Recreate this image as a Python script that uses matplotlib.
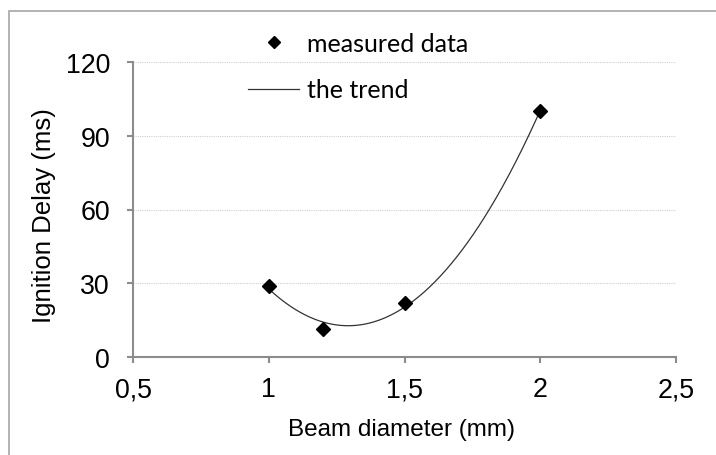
import numpy as np
import matplotlib
matplotlib.use("Agg")
import matplotlib.pyplot as plt
from matplotlib.patches import Rectangle
from matplotlib.lines import Line2D

plt.rcParams["font.family"] = ["Liberation Sans", "DejaVu Sans"]

# Data
beam_diameter = [1.0, 1.2, 1.5, 2.0]
ignition_delay = [29.0, 11.5, 22.0, 100.0]
x_ticks = [0.5, 1.0, 1.5, 2.0, 2.5]
x_tick_labels = ["0,5", "1", "1,5", "2", "2,5"]
y_ticks = [0, 30, 60, 90, 120]
y_tick_labels = ["0", "30", "60", "90", "120"]

W, H = 716, 456
fig = plt.figure(figsize=(W / 100, H / 100), dpi=100)
fig.patch.set_facecolor("white")

# outer chart border (cropped at right/bottom)
fig.add_artist(Rectangle((9 / W, -0.5), 2.0, 0.5 + (1 - 12 / H),
                         transform=fig.transFigure, fill=False,
                         edgecolor="#a6a6a6", linewidth=1.2))

ax_left, ax_right = 133 / W, 676 / W
ax_bottom, ax_top = 1 - 358 / H, 1 - 63 / H
ax = fig.add_axes([ax_left, ax_bottom, ax_right - ax_left, ax_top - ax_bottom])

ax.set_xlim(0.5, 2.5)
ax.set_ylim(0, 120)

# polynomial (order 2) trend line, as in the source spreadsheet
coef = np.polyfit(beam_diameter, ignition_delay, 2)
xs = np.linspace(min(beam_diameter), max(beam_diameter), 200)
ax.plot(xs, np.polyval(coef, xs), color="#333333", linewidth=0.9, zorder=3)

ax.plot(beam_diameter, ignition_delay, linestyle="none", marker="D",
        markersize=7.5, color="black", zorder=4)

# grid
for yv in y_ticks[1:]:
    ax.axhline(yv, color="#cfcfcf", linewidth=0.8, linestyle=(0, (1, 1)), zorder=1)

for s in ["top", "right"]:
    ax.spines[s].set_visible(False)
for s in ["left", "bottom"]:
    ax.spines[s].set_color("#8c8c8c")
    ax.spines[s].set_linewidth(1.5)

ax.set_xticks(x_ticks)
ax.set_xticklabels(x_tick_labels)
ax.set_yticks(y_ticks)
ax.set_yticklabels(y_tick_labels)
ax.tick_params(axis="both", direction="out", length=4.5, width=1.5,
               color="#8c8c8c", labelsize=19.3, labelcolor="black")
ax.tick_params(axis="y", pad=12)
ax.tick_params(axis="x", pad=9.5)

ax.set_xlabel("Beam diameter (mm)", fontsize=17.5, va="center")
ax.xaxis.set_label_coords((401 - 133) / (676 - 133), (358 - 430) / (358 - 63))
ax.set_ylabel("Ignition Delay (ms)", fontsize=18.5, va="center")
ax.yaxis.set_label_coords((44 - 133) / (676 - 133), (358 - 216) / (358 - 63))

handles = [
    Line2D([], [], linestyle="none", marker="D", markersize=6.5, color="black"),
    Line2D([], [], color="#333333", linewidth=0.9),
]
leg = fig.legend(handles, ["measured data", "the trend"], loc="center left",
                 bbox_to_anchor=(248 / W, 1 - 67.5 / H),
                 bbox_transform=fig.transFigure, frameon=False,
                 prop={"family": "Lato", "size": 18}, borderpad=0,
                 borderaxespad=0, handlelength=2.05, handletextpad=0.3,
                 labelspacing=0.95)

fig.savefig("out.png", dpi=100, facecolor="white")
